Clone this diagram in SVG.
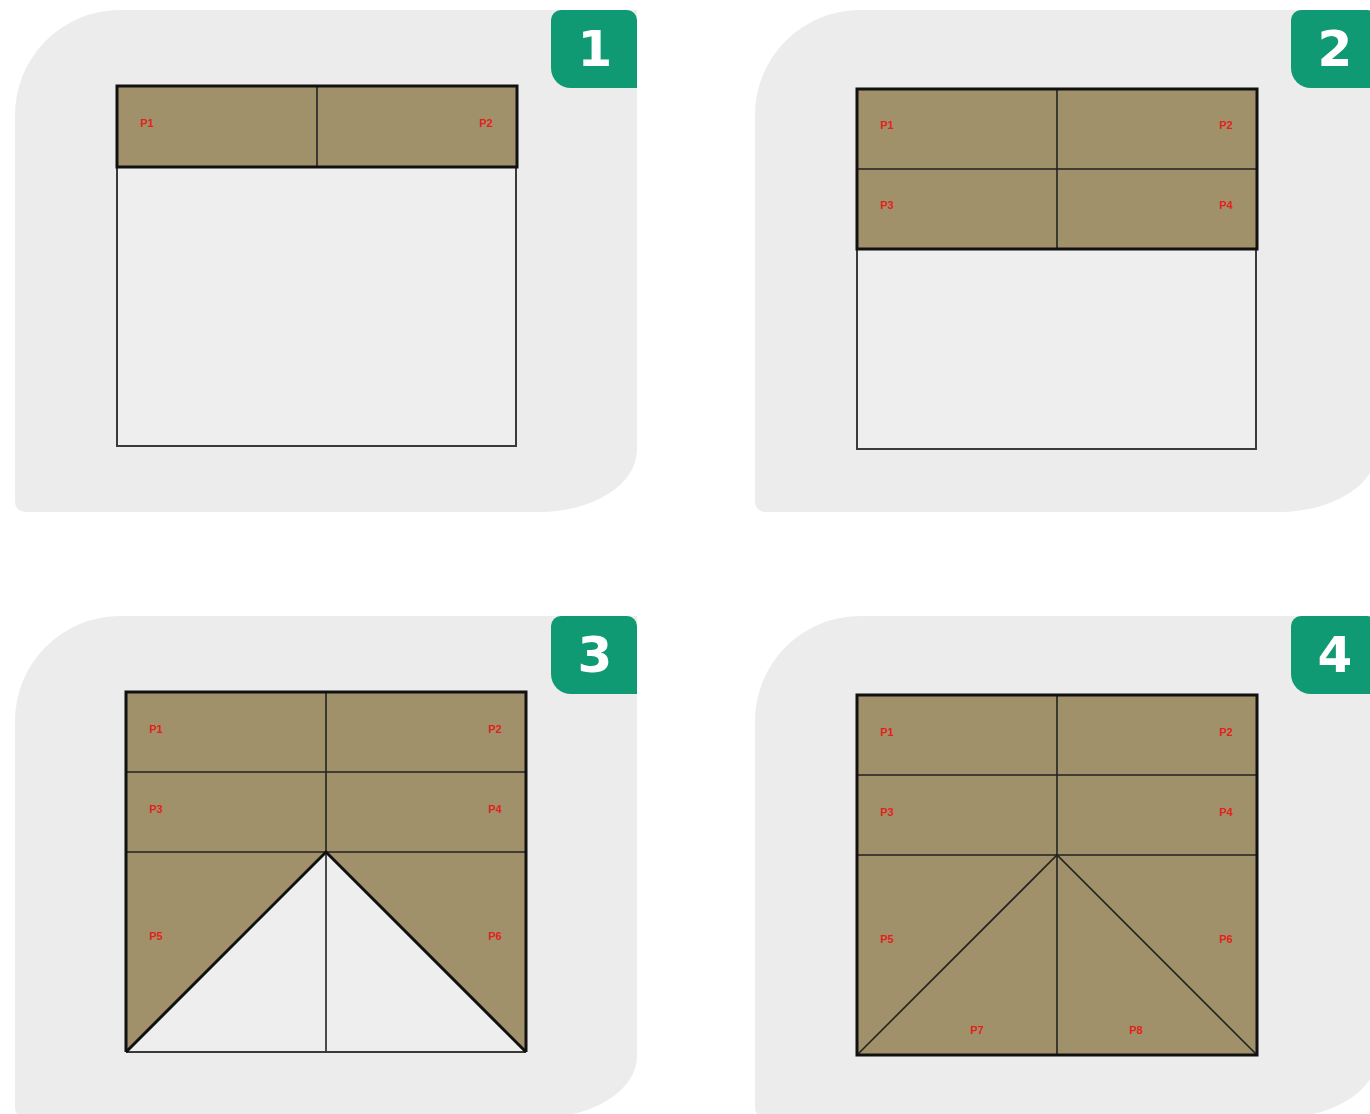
<svg xmlns="http://www.w3.org/2000/svg" width="1370" height="1114" viewBox="0 0 1370 1114">
<defs>
<style>
.panel{fill:#ececec}
.badge{fill:#0f9a74}
.num{fill:#ffffff;font-family:"DejaVu Sans",sans-serif;font-weight:bold;font-size:50px;text-anchor:middle}
.brown{fill:#a0916a}
.white{fill:#eeeeee}
.outer{fill:none;stroke:#111;stroke-width:3}
.thin{fill:none;stroke:#3a3a3a;stroke-width:2}
.inner{stroke:#222;stroke-width:1.6;fill:none}
.lbl{fill:#e0231c;font-family:"Liberation Sans",Arial,sans-serif;font-weight:bold;font-size:11px;text-anchor:middle}
</style>
<path id="panelShape" d="M15,115 A105,105 0 0 1 120,10 L637,10 L637,450 A98,62 0 0 1 539,512 L25,512 A10,10 0 0 1 15,502 Z"/>
<path id="badgeShape" d="M561,10 L627,10 A10,10 0 0 1 637,20 L637,88 L571,88 A20,20 0 0 1 551,68 L551,20 A10,10 0 0 1 561,10 Z"/>
</defs>

<g id="panel1">
<use href="#panelShape" class="panel"/>
<use href="#badgeShape" class="badge"/>
<text class="num" x="595" y="66">1</text>
<rect class="white" x="117" y="167" width="399" height="279"/>
<rect class="thin" x="117" y="167" width="399" height="279"/>
<rect class="brown" x="117" y="86" width="400" height="81"/>
<line class="inner" x1="317" y1="86" x2="317" y2="167"/>
<rect class="outer" x="117" y="86" width="400" height="81"/>
<text class="lbl" x="147" y="127">P1</text>
<text class="lbl" x="486" y="127">P2</text>
</g>

<g id="panel2">
<use href="#panelShape" class="panel" transform="translate(740,0)"/>
<use href="#badgeShape" class="badge" transform="translate(740,0)"/>
<text class="num" x="1335" y="66">2</text>
<rect class="white" x="857" y="249" width="399" height="200"/>
<rect class="thin" x="857" y="249" width="399" height="200"/>
<rect class="brown" x="857" y="89" width="400" height="160"/>
<line class="inner" x1="1057" y1="89" x2="1057" y2="249"/>
<line class="inner" x1="857" y1="169" x2="1257" y2="169"/>
<rect class="outer" x="857" y="89" width="400" height="160"/>
<text class="lbl" x="887" y="129">P1</text>
<text class="lbl" x="1226" y="129">P2</text>
<text class="lbl" x="887" y="209">P3</text>
<text class="lbl" x="1226" y="209">P4</text>
</g>

<g id="panel3">
<use href="#panelShape" class="panel" transform="translate(0,606)"/>
<use href="#badgeShape" class="badge" transform="translate(0,606)"/>
<text class="num" x="595" y="672">3</text>
<rect class="white" x="126" y="852" width="400" height="200"/>
<rect class="brown" x="126" y="692" width="400" height="160"/>
<polygon class="brown" points="126,852 326,852 126,1052"/>
<polygon class="brown" points="326,852 526,852 526,1052"/>
<line class="inner" x1="326" y1="692" x2="326" y2="1052"/>
<line class="inner" x1="126" y1="772" x2="526" y2="772"/>
<line class="inner" x1="126" y1="852" x2="526" y2="852"/>
<line class="thin" x1="126" y1="1052" x2="526" y2="1052"/>
<polyline class="outer" points="126,1052 326,852 526,1052"/>
<polyline class="outer" points="126,1052 126,692 526,692 526,1052"/>
<text class="lbl" x="156" y="733">P1</text>
<text class="lbl" x="495" y="733">P2</text>
<text class="lbl" x="156" y="813">P3</text>
<text class="lbl" x="495" y="813">P4</text>
<text class="lbl" x="156" y="940">P5</text>
<text class="lbl" x="495" y="940">P6</text>
</g>

<g id="panel4">
<use href="#panelShape" class="panel" transform="translate(740,606)"/>
<use href="#badgeShape" class="badge" transform="translate(740,606)"/>
<text class="num" x="1335" y="672">4</text>
<rect class="brown" x="857" y="695" width="400" height="360"/>
<line class="inner" x1="1057" y1="695" x2="1057" y2="1055"/>
<line class="inner" x1="857" y1="775" x2="1257" y2="775"/>
<line class="inner" x1="857" y1="855" x2="1257" y2="855"/>
<polyline class="inner" points="857,1055 1057,855 1257,1055"/>
<rect class="outer" x="857" y="695" width="400" height="360"/>
<text class="lbl" x="887" y="736">P1</text>
<text class="lbl" x="1226" y="736">P2</text>
<text class="lbl" x="887" y="816">P3</text>
<text class="lbl" x="1226" y="816">P4</text>
<text class="lbl" x="887" y="943">P5</text>
<text class="lbl" x="1226" y="943">P6</text>
<text class="lbl" x="977" y="1034">P7</text>
<text class="lbl" x="1136" y="1034">P8</text>
</g>
</svg>
